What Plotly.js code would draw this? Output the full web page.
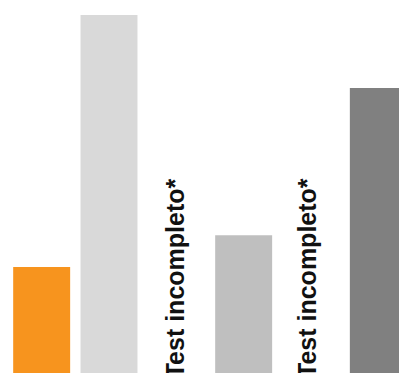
<!DOCTYPE html>
<html>
<head>
<meta charset="utf-8">
<script src="https://cdn.plot.ly/plotly-3.0.1.min.js"></script>
<style>
html, body { margin: 0; padding: 0; overflow: hidden; background: #fff; }
#chart { width: 412px; height: 373px; }
</style>
</head>
<body>
<div id="chart"></div>
<script>
const categories = ['G1', 'G2', 'G3', 'G4', 'G5', 'G6'];
const values = [29.6, 100, null, 38.5, null, 79.6];
const barColors = ['#F7941E', '#D9D9D9', '#FFFFFF', '#BFBFBF', '#FFFFFF', '#808080'];
const notes = ['', '', 'Test incompleto*', '', 'Test incompleto*', ''];

const trace = {
  type: 'bar',
  x: categories,
  y: values,
  marker: { color: barColors },
  hoverinfo: 'skip'
};

const annotations = [];
notes.forEach((t, i) => {
  if (t) {
    annotations.push({
      x: categories[i], xref: 'x',
      y: 0, yref: 'paper',
      text: '<b>' + t + '</b>',
      textangle: -90,
      showarrow: false,
      xanchor: 'center', yanchor: 'bottom',
      yshift: -7,
      xshift: i === 2 ? -1 : -4,
      font: { family: 'Liberation Sans, Arial, sans-serif', size: 25, color: '#111' }
    });
  }
});

const layout = {
  width: 412, height: 373,
  margin: { l: 8, r: 0, t: 0, b: 0, pad: 0 },
  paper_bgcolor: '#fff', plot_bgcolor: '#fff',
  bargap: 0.154,
  showlegend: false,
  xaxis: { type: 'category', visible: false, range: [-0.5, 5.5], fixedrange: true },
  yaxis: { visible: false, range: [0, 104.2], fixedrange: true },
  annotations: annotations
};

Plotly.newPlot('chart', [trace], layout, { staticPlot: true, displayModeBar: false });
</script>
</body>
</html>
